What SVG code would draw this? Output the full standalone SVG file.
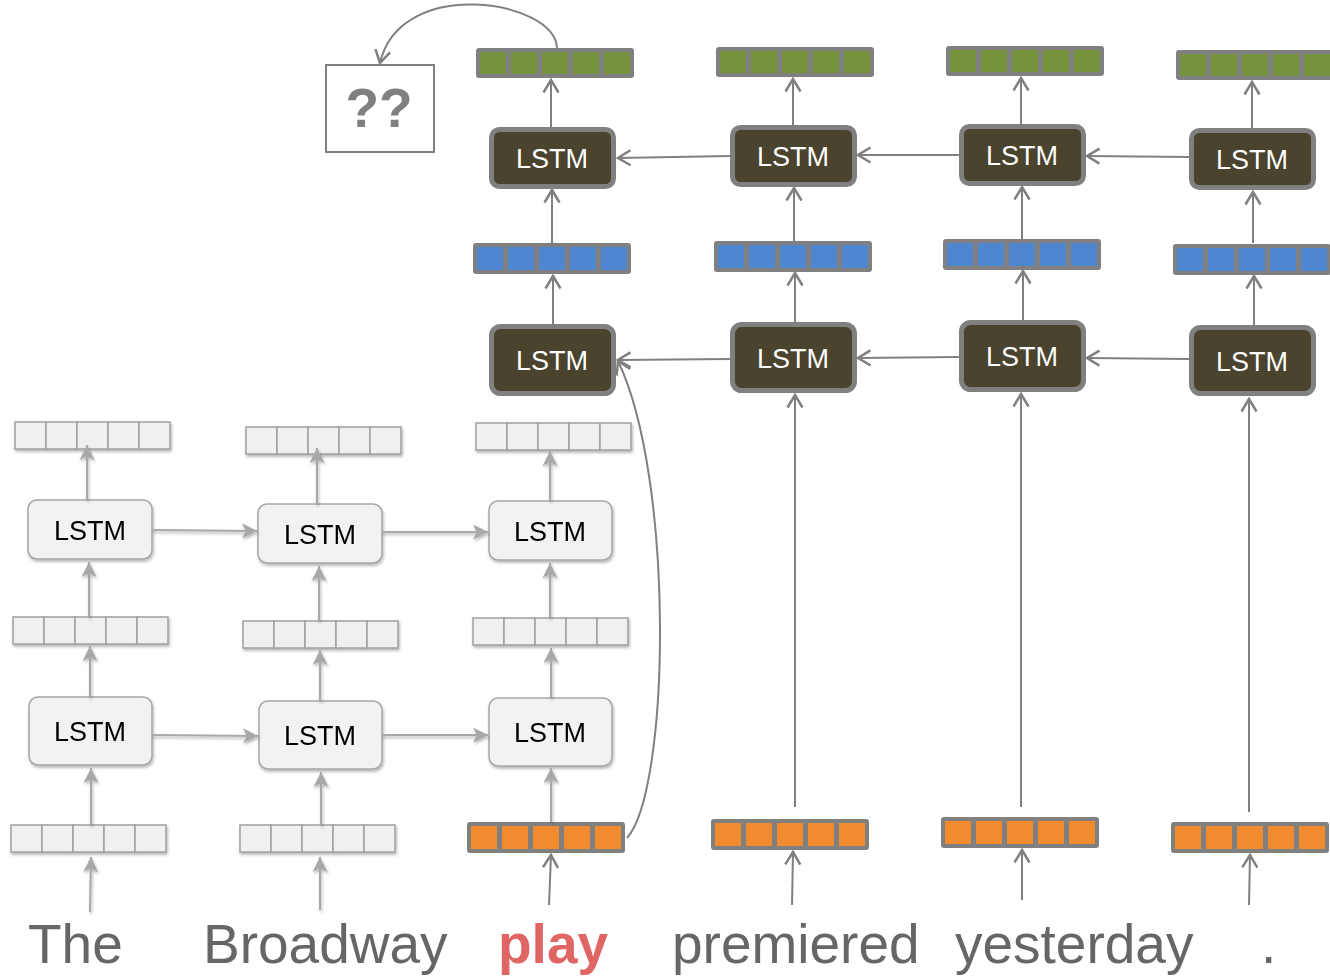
<svg xmlns="http://www.w3.org/2000/svg" width="1330" height="977" viewBox="0 0 1330 977">
<defs>
<style>
.dk{fill:#4a432d;stroke:#808080;stroke-width:5}
.dkt{fill:#ffffff;font-family:"Liberation Sans",Arial,sans-serif;font-size:27px;text-anchor:middle}
.lt{fill:#f2f2f2;stroke:#a6a6a6;stroke-width:1.5}
.ltt{fill:#000000;font-family:"Liberation Sans",Arial,sans-serif;font-size:27px;text-anchor:middle}
.frame{fill:#808080}
.g{fill:#76923c}
.b{fill:#4f86d2}
.o{fill:#f28b30}
.lc{fill:#f0f0f0;stroke:#a0a0a0;stroke-width:1.5}
.dc{fill:none;stroke:#808080;stroke-width:2}
.lcn{fill:none;stroke:#a8a8a8;stroke-width:2}
.word{fill:#666666;font-family:"Liberation Sans",Arial,sans-serif;font-size:55px}
</style>
<marker id="ah" markerUnits="userSpaceOnUse" markerWidth="20" markerHeight="20" refX="0" refY="0" viewBox="-12 -8 14 16" orient="auto">
<path d="M-10,-6 L0,0 L-10,6" fill="none" stroke="#808080" stroke-width="2"/>
</marker>
<marker id="la" markerUnits="userSpaceOnUse" markerWidth="20" markerHeight="20" refX="0" refY="0" viewBox="-14 -8 16 16" orient="auto">
<path d="M-12,-6 L0,0 L-12,6 L-9,0 Z" fill="#a8a8a8"/>
</marker>
<filter id="sh" x="-20%" y="-20%" width="140%" height="150%">
<feDropShadow dx="1" dy="2" stdDeviation="1.8" flood-color="#000" flood-opacity="0.3"/>
</filter>
<g id="gv"><rect class="frame" x="0" y="0" width="158" height="30" rx="3"/><rect class="g" x="4" y="4" width="26" height="22"/><rect class="g" x="35" y="4" width="26" height="22"/><rect class="g" x="66" y="4" width="26" height="22"/><rect class="g" x="97" y="4" width="26" height="22"/><rect class="g" x="128" y="4" width="26" height="22"/></g>
<g id="bv"><rect class="frame" x="0" y="0" width="158" height="31" rx="3"/><rect class="b" x="4" y="4" width="26" height="23"/><rect class="b" x="35" y="4" width="26" height="23"/><rect class="b" x="66" y="4" width="26" height="23"/><rect class="b" x="97" y="4" width="26" height="23"/><rect class="b" x="128" y="4" width="26" height="23"/></g>
<g id="ov"><rect class="frame" x="0" y="0" width="158" height="31" rx="3"/><rect class="o" x="4" y="4" width="26" height="23"/><rect class="o" x="35" y="4" width="26" height="23"/><rect class="o" x="66" y="4" width="26" height="23"/><rect class="o" x="97" y="4" width="26" height="23"/><rect class="o" x="128" y="4" width="26" height="23"/></g>
<g id="lv" filter="url(#sh)"><rect class="lc" x="0" y="0" width="31" height="27"/><rect class="lc" x="31" y="0" width="31" height="27"/><rect class="lc" x="62" y="0" width="31" height="27"/><rect class="lc" x="93" y="0" width="31" height="27"/><rect class="lc" x="124" y="0" width="31" height="27"/></g>
</defs>
<rect x="0" y="0" width="1330" height="977" fill="#ffffff"/>

<!-- light vectors -->
<g id="lv-1-top"><use href="#lv" x="15" y="422"/></g>
<g id="lv-2-top"><use href="#lv" x="246" y="427"/></g>
<g id="lv-3-top"><use href="#lv" x="476" y="423"/></g>
<g id="lv-1-mid"><use href="#lv" x="13" y="617"/></g>
<g id="lv-2-mid"><use href="#lv" x="243" y="621"/></g>
<g id="lv-3-mid"><use href="#lv" x="473" y="618"/></g>
<g id="lv-1-bot"><use href="#lv" x="11" y="825"/></g>
<g id="lv-2-bot"><use href="#lv" x="240" y="825"/></g>

<!-- light LSTMs -->
<g id="llstm-1-up" filter="url(#sh)"><rect class="lt" x="28" y="500" width="124" height="59" rx="9"/><text class="ltt" x="90" y="540">LSTM</text></g>
<g id="llstm-2-up" filter="url(#sh)"><rect class="lt" x="258" y="504" width="124" height="59" rx="9"/><text class="ltt" x="320" y="544">LSTM</text></g>
<g id="llstm-3-up" filter="url(#sh)"><rect class="lt" x="489" y="501" width="123" height="59" rx="9"/><text class="ltt" x="550" y="541">LSTM</text></g>
<g id="llstm-1-lo" filter="url(#sh)"><rect class="lt" x="29" y="697" width="123" height="68" rx="9"/><text class="ltt" x="90" y="741">LSTM</text></g>
<g id="llstm-2-lo" filter="url(#sh)"><rect class="lt" x="259" y="701" width="123" height="68" rx="9"/><text class="ltt" x="320" y="745">LSTM</text></g>
<g id="llstm-3-lo" filter="url(#sh)"><rect class="lt" x="489" y="698" width="123" height="68" rx="9"/><text class="ltt" x="550" y="742">LSTM</text></g>

<!-- colored vectors -->
<g id="gv1"><use href="#gv" x="476" y="48"/></g>
<g id="gv2"><use href="#gv" x="716" y="47"/></g>
<g id="gv3"><use href="#gv" x="946" y="46"/></g>
<g id="gv4"><use href="#gv" x="1176" y="50"/></g>
<g id="bv1"><use href="#bv" x="473" y="243"/></g>
<g id="bv2"><use href="#bv" x="714" y="241"/></g>
<g id="bv3"><use href="#bv" x="943" y="239"/></g>
<g id="bv4"><use href="#bv" x="1173" y="244"/></g>
<g id="ov1"><use href="#ov" x="467" y="822"/></g>
<g id="ov2"><use href="#ov" x="711" y="819"/></g>
<g id="ov3"><use href="#ov" x="941" y="817"/></g>
<g id="ov4"><use href="#ov" x="1171" y="822"/></g>

<!-- dark LSTMs -->
<g id="dlstm-1-top"><rect class="dk" x="491.5" y="129.5" width="122" height="57" rx="8"/><text class="dkt" x="552" y="168">LSTM</text></g>
<g id="dlstm-2-top"><rect class="dk" x="732.5" y="127.5" width="122" height="57" rx="8"/><text class="dkt" x="793" y="166">LSTM</text></g>
<g id="dlstm-3-top"><rect class="dk" x="961.5" y="126.5" width="122" height="57" rx="8"/><text class="dkt" x="1022" y="165">LSTM</text></g>
<g id="dlstm-4-top"><rect class="dk" x="1191.5" y="130.5" width="122" height="57" rx="8"/><text class="dkt" x="1252" y="169">LSTM</text></g>
<g id="dlstm-1-bot"><rect class="dk" x="491.5" y="326.5" width="122" height="67" rx="9"/><text class="dkt" x="552" y="370">LSTM</text></g>
<g id="dlstm-2-bot"><rect class="dk" x="732.5" y="324.5" width="122" height="66" rx="9"/><text class="dkt" x="793" y="368">LSTM</text></g>
<g id="dlstm-3-bot"><rect class="dk" x="961.5" y="322.5" width="122" height="67" rx="9"/><text class="dkt" x="1022" y="366">LSTM</text></g>
<g id="dlstm-4-bot"><rect class="dk" x="1191.5" y="327.5" width="122" height="66" rx="9"/><text class="dkt" x="1252" y="371">LSTM</text></g>

<!-- ?? box -->
<g id="unknown"><rect x="326" y="65" width="108" height="87" fill="#ffffff" stroke="#808080" stroke-width="2"/><text x="379" y="127" fill="#808080" font-family="'Liberation Sans',Arial,sans-serif" font-size="55" font-weight="bold" text-anchor="middle">??</text></g>

<!-- connectors -->
<g id="connectors">
<g id="dark-conn" class="dc" marker-end="url(#ah)">
<path d="M557,48 C555,0 400,-25 380,63"/>
<path d="M627,838 C670,790 675,480 618,361"/>
<path d="M730,156 L618,158"/>
<path d="M959,155 L858,155"/>
<path d="M1189,157 L1087,156"/>
<path d="M730,359 L618,360"/>
<path d="M959,357 L858,358"/>
<path d="M1189,359 L1087,358"/>
<path d="M551,127 L551,80"/>
<path d="M552,243 L552,190"/>
<path d="M553,324 L553,276"/>
<path d="M793,125 L793,79"/>
<path d="M794,241 L794,188"/>
<path d="M795,322 L795,273"/>
<path d="M795,807 L795,395"/>
<path d="M1021,124 L1021,78"/>
<path d="M1022,239 L1022,187"/>
<path d="M1023,320 L1023,271"/>
<path d="M1021,807 L1021,394"/>
<path d="M1252,128 L1252,82"/>
<path d="M1253,243 L1253,192"/>
<path d="M1254,325 L1254,276"/>
<path d="M1249,812 L1249,399"/>
<path d="M549,905 L551,855"/>
<path d="M792,905 L793,852"/>
<path d="M1022,900 L1022,850"/>
<path d="M1249,905 L1250,855"/>
</g>
<g id="light-conn" class="lcn" marker-end="url(#la)" filter="url(#sh)">
<path d="M90,912 L91,857"/>
<path d="M91,825 L91,768"/>
<path d="M90,697 L90,646"/>
<path d="M89,617 L89,562"/>
<path d="M87,500 L87,445"/>
<path d="M320,910 L320,857"/>
<path d="M321,825 L321,772"/>
<path d="M320,701 L320,650"/>
<path d="M319,621 L319,566"/>
<path d="M317,504 L317,448"/>
<path d="M551,822 L551,768"/>
<path d="M551,698 L551,648"/>
<path d="M550,618 L550,563"/>
<path d="M550,501 L550,451"/>
<path d="M152,530 L257,531"/>
<path d="M382,532 L488,532"/>
<path d="M152,735 L258,736"/>
<path d="M382,735 L488,735"/>
</g>
</g>

<!-- words -->
<g id="words">
<text class="word" x="28" y="963">The</text>
<text class="word" x="203" y="963">Broadway</text>
<text x="498" y="963" fill="#e06666" font-family="'Liberation Sans',Arial,sans-serif" font-size="55" font-weight="bold">play</text>
<text class="word" x="672" y="963">premiered</text>
<text class="word" x="955" y="963">yesterday</text>
<text class="word" x="1261" y="963">.</text>
</g>
</svg>
